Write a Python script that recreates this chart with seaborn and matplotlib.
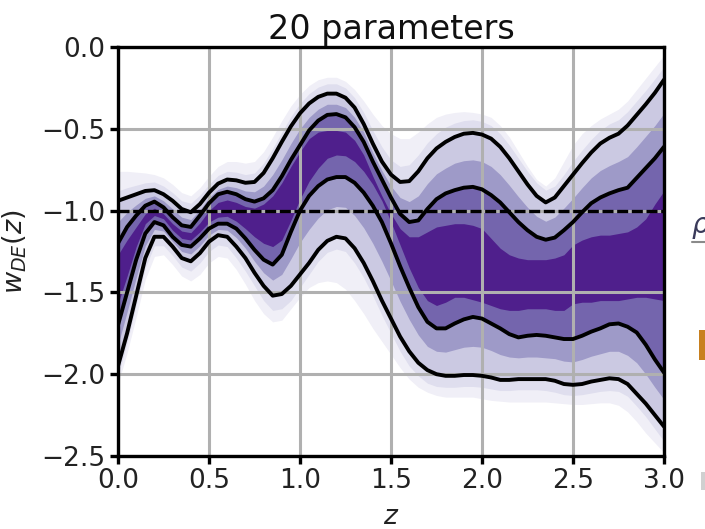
import numpy as np
import matplotlib
matplotlib.use("Agg")
import matplotlib.pyplot as plt
import seaborn as sns
from matplotlib.patches import Rectangle
from matplotlib.lines import Line2D

# redshift grid (step 0.05)
z = np.round(np.arange(61) * 0.05, 2)

# 2-sigma contour lines
w_2sig_hi = [-0.94, -0.92, -0.90, -0.88, -0.875, -0.90, -0.94, -0.99, -1.01, -0.96,
             -0.89, -0.835, -0.81, -0.815, -0.83, -0.825, -0.77, -0.68, -0.58, -0.485,
             -0.405, -0.345, -0.305, -0.285, -0.285, -0.31, -0.37, -0.47, -0.59, -0.70,
             -0.78, -0.825, -0.82, -0.76, -0.68, -0.62, -0.58, -0.55, -0.53, -0.525,
             -0.535, -0.56, -0.61, -0.68, -0.76, -0.84, -0.91, -0.95, -0.92, -0.85,
             -0.78, -0.71, -0.645, -0.59, -0.555, -0.53, -0.48, -0.415, -0.35, -0.28,
             -0.20]
w_2sig_lo = [-1.95, -1.75, -1.52, -1.29, -1.16, -1.16, -1.22, -1.29, -1.31, -1.26,
             -1.19, -1.15, -1.16, -1.22, -1.29, -1.38, -1.46, -1.52, -1.51, -1.46,
             -1.39, -1.32, -1.24, -1.185, -1.16, -1.17, -1.23, -1.32, -1.43, -1.55,
             -1.66, -1.77, -1.86, -1.93, -1.975, -2.00, -2.01, -2.01, -2.005, -2.005,
             -2.01, -2.02, -2.035, -2.035, -2.03, -2.03, -2.03, -2.03, -2.04, -2.06,
             -2.065, -2.06, -2.045, -2.035, -2.025, -2.03, -2.06, -2.12, -2.18, -2.25,
             -2.32]

# 1-sigma contour lines
w_1sig_hi = [-1.20, -1.10, -1.03, -0.97, -0.945, -0.98, -1.04, -1.09, -1.10, -1.03,
             -0.955, -0.90, -0.885, -0.90, -0.93, -0.945, -0.925, -0.875, -0.79, -0.69,
             -0.60, -0.51, -0.45, -0.415, -0.41, -0.43, -0.49, -0.58, -0.70, -0.81,
             -0.92, -1.02, -1.07, -1.06, -0.99, -0.93, -0.895, -0.875, -0.86, -0.855,
             -0.87, -0.905, -0.95, -1.01, -1.07, -1.12, -1.16, -1.178, -1.165, -1.12,
             -1.07, -1.01, -0.955, -0.92, -0.895, -0.875, -0.86, -0.80, -0.74, -0.68,
             -0.61]
w_1sig_lo = [-1.70, -1.50, -1.30, -1.14, -1.07, -1.09, -1.16, -1.21, -1.22, -1.17,
             -1.11, -1.08, -1.08, -1.11, -1.17, -1.24, -1.30, -1.33, -1.27, -1.13,
             -1.00, -0.91, -0.85, -0.81, -0.795, -0.795, -0.83, -0.89, -0.97, -1.07,
             -1.20, -1.34, -1.47, -1.59, -1.68, -1.72, -1.72, -1.69, -1.665, -1.65,
             -1.66, -1.69, -1.72, -1.755, -1.775, -1.765, -1.76, -1.765, -1.775, -1.785,
             -1.785, -1.765, -1.74, -1.72, -1.695, -1.69, -1.71, -1.745, -1.82, -1.91,
             -1.99]

# shaded credible regions (edges of each colour level)
w_05sig_hi = [-1.27, -1.18, -1.10, -1.02, -0.985, -1.02, -1.08, -1.125, -1.135, -1.075,
              -1.00, -0.95, -0.935, -0.95, -0.975, -0.985, -0.96, -0.91, -0.83, -0.73,
              -0.64, -0.56, -0.52, -0.51, -0.51, -0.52, -0.57, -0.66, -0.79, -0.91,
              -1.02, -1.11, -1.16, -1.16, -1.13, -1.10, -1.09, -1.08, -1.08, -1.09,
              -1.11, -1.17, -1.23, -1.27, -1.29, -1.30, -1.30, -1.30, -1.29, -1.27,
              -1.21, -1.18, -1.16, -1.15, -1.15, -1.14, -1.13, -1.10, -1.05, -0.96,
              -0.88]
w_05sig_lo = [-1.57, -1.40, -1.22, -1.08, -1.03, -1.05, -1.12, -1.17, -1.18, -1.13,
              -1.07, -1.04, -1.035, -1.065, -1.11, -1.16, -1.20, -1.22, -1.18, -1.06,
              -0.93, -0.82, -0.74, -0.68, -0.66, -0.665, -0.70, -0.76, -0.84, -0.94,
              -1.07, -1.21, -1.35, -1.47, -1.55, -1.58, -1.56, -1.53, -1.53, -1.545,
              -1.56, -1.58, -1.60, -1.61, -1.61, -1.60, -1.60, -1.60, -1.61, -1.61,
              -1.57, -1.56, -1.56, -1.55, -1.55, -1.55, -1.54, -1.53, -1.53, -1.54,
              -1.55]
w_15sig_hi = [-1.07, -1.01, -0.965, -0.925, -0.91, -0.94, -0.99, -1.04, -1.055, -0.995,
              -0.92, -0.87, -0.85, -0.86, -0.88, -0.885, -0.85, -0.78, -0.69, -0.59,
              -0.50, -0.43, -0.38, -0.35, -0.35, -0.37, -0.43, -0.52, -0.645, -0.755,
              -0.85, -0.92, -0.945, -0.91, -0.835, -0.775, -0.74, -0.71, -0.695, -0.69,
              -0.70, -0.73, -0.78, -0.845, -0.915, -0.98, -1.035, -1.065, -1.04, -0.985,
              -0.925, -0.86, -0.80, -0.755, -0.725, -0.70, -0.67, -0.61, -0.545, -0.48,
              -0.405]
w_15sig_lo = [-1.82, -1.62, -1.41, -1.215, -1.115, -1.125, -1.19, -1.25, -1.265, -1.215,
              -1.15, -1.115, -1.12, -1.165, -1.23, -1.31, -1.38, -1.425, -1.39, -1.295,
              -1.195, -1.115, -1.045, -0.995, -0.975, -0.98, -1.03, -1.105, -1.20, -1.31,
              -1.43, -1.555, -1.665, -1.76, -1.83, -1.86, -1.865, -1.85, -1.835, -1.83,
              -1.835, -1.855, -1.88, -1.895, -1.90, -1.895, -1.895, -1.90, -1.905, -1.92,
              -1.925, -1.91, -1.89, -1.875, -1.86, -1.86, -1.885, -1.93, -2.00, -2.08,
              -2.155]
w_25sig_hi = [-0.88, -0.86, -0.845, -0.83, -0.825, -0.85, -0.89, -0.94, -0.955, -0.905,
              -0.84, -0.785, -0.76, -0.765, -0.78, -0.77, -0.71, -0.62, -0.52, -0.425,
              -0.345, -0.285, -0.245, -0.225, -0.225, -0.25, -0.31, -0.40, -0.51, -0.61,
              -0.69, -0.73, -0.72, -0.66, -0.585, -0.53, -0.49, -0.465, -0.45, -0.445,
              -0.455, -0.48, -0.53, -0.60, -0.68, -0.76, -0.83, -0.875, -0.85, -0.78,
              -0.70, -0.63, -0.565, -0.51, -0.47, -0.445, -0.395, -0.33, -0.265, -0.195,
              -0.12]
w_25sig_lo = [-2.01, -1.81, -1.58, -1.35, -1.215, -1.215, -1.275, -1.345, -1.37, -1.32,
              -1.25, -1.21, -1.22, -1.29, -1.37, -1.46, -1.55, -1.61, -1.60, -1.55,
              -1.47, -1.39, -1.31, -1.255, -1.235, -1.25, -1.32, -1.41, -1.52, -1.64,
              -1.75, -1.86, -1.95, -2.01, -2.055, -2.075, -2.08, -2.08, -2.075, -2.075,
              -2.08, -2.09, -2.10, -2.10, -2.095, -2.095, -2.095, -2.10, -2.11, -2.125,
              -2.13, -2.125, -2.115, -2.105, -2.10, -2.105, -2.135, -2.195, -2.26, -2.335,
              -2.41]
w_3sig_hi = [-0.76, -0.76, -0.765, -0.77, -0.78, -0.80, -0.84, -0.89, -0.91, -0.86,
             -0.79, -0.73, -0.70, -0.70, -0.71, -0.70, -0.64, -0.55, -0.45, -0.36,
             -0.29, -0.235, -0.20, -0.185, -0.185, -0.21, -0.26, -0.33, -0.41, -0.48,
             -0.53, -0.56, -0.56, -0.52, -0.47, -0.43, -0.41, -0.40, -0.395, -0.40,
             -0.41, -0.43, -0.48, -0.55, -0.64, -0.73, -0.81, -0.85, -0.80, -0.70,
             -0.60, -0.53, -0.48, -0.44, -0.41, -0.38, -0.33, -0.26, -0.19, -0.12,
             -0.05]
w_3sig_lo = [-2.06, -1.87, -1.65, -1.42, -1.28, -1.27, -1.33, -1.40, -1.43, -1.39,
             -1.32, -1.28, -1.29, -1.36, -1.45, -1.55, -1.63, -1.68, -1.67, -1.60,
             -1.53, -1.47, -1.44, -1.43, -1.44, -1.48, -1.55, -1.63, -1.72, -1.80,
             -1.88, -1.96, -2.03, -2.08, -2.11, -2.13, -2.14, -2.14, -2.14, -2.14,
             -2.15, -2.16, -2.165, -2.17, -2.17, -2.17, -2.17, -2.17, -2.175, -2.18,
             -2.185, -2.185, -2.18, -2.175, -2.175, -2.19, -2.23, -2.29, -2.36, -2.42,
             -2.48]

x_ticks = [0.0, 0.5, 1.0, 1.5, 2.0, 2.5, 3.0]
y_ticks = [-2.5, -2.0, -1.5, -1.0, -0.5, 0.0]

sns.set_theme(style="ticks")
plt.rcParams["font.family"] = ["DejaVu Sans"]
plt.rcParams["mathtext.fontset"] = "dejavusans"

fig = plt.figure(figsize=(7.05, 5.29), dpi=100)
ax = fig.add_axes([118 / 705, 1 - 456 / 529, 546 / 705, 409 / 529])

# nested shaded levels, outermost first
levels = [
    (w_3sig_hi, w_3sig_lo, "#f0eff7"),
    (w_25sig_hi, w_25sig_lo, "#dfdeee"),
    (w_2sig_hi, w_2sig_lo, "#cbc9e2"),
    (w_15sig_hi, w_15sig_lo, "#9e9ac8"),
    (w_1sig_hi, w_1sig_lo, "#7465ad"),
    (w_05sig_hi, w_05sig_lo, "#4f1f8c"),
]
for hi, lo, col in levels:
    ax.fill_between(z, lo, hi, color=col, lw=0, zorder=1)

# contour lines
for arr in (w_2sig_hi, w_1sig_hi, w_1sig_lo, w_2sig_lo):
    sns.lineplot(x=z, y=arr, color="black", lw=2.8, ax=ax, errorbar=None,
                 sort=False, zorder=3)

# cosmological constant
ax.axhline(-1.0, color="black", lw=2.4, ls=(0, (3.3, 1.1)), zorder=4)

ax.set_xlim(0, 3)
ax.set_ylim(-2.5, 0)
ax.set_xticks(x_ticks)
ax.set_yticks(y_ticks)
ax.set_xticklabels([f"{t:.1f}" for t in x_ticks])
ax.set_yticklabels([f"{t:.1f}".replace("-", "\u2212") for t in y_ticks])
ax.grid(True, color="#b0b0b0", lw=2.2)
ax.set_axisbelow("line")

for sp in ax.spines.values():
    sp.set_linewidth(2.4)
    sp.set_color("black")
ax.tick_params(axis="both", which="major", direction="out", length=6, width=2.4,
               color="black", labelsize=19, labelcolor="#222222", pad=3)

ax.set_title("20 parameters", fontsize=24, color="#111111", pad=6)
ax.set_xlabel("$z$", fontsize=19, color="#222222", labelpad=7)
ax.set_ylabel("$w_{DE}(z)$", fontsize=19.5, color="#222222", labelpad=9)

# neighbouring panel pieces at the right edge
fig.text(691 / 705, 1 - 233 / 529, r"$\rho$", fontsize=20, color="#3a3a5a",
         ha="left", va="baseline")
fig.add_artist(Line2D([692 / 705, 1.0], [1 - 242 / 529, 1 - 242 / 529],
                      color="#8a8a8a", lw=1.5, transform=fig.transFigure))
fig.add_artist(Rectangle((699 / 705, 1 - 360 / 529), 6 / 705, 30 / 529,
                         color="#c8801f", lw=0, transform=fig.transFigure))
fig.add_artist(Rectangle((701 / 705, 1 - 490 / 529), 4 / 705, 18 / 529,
                         color="#d0d0d0", lw=0, transform=fig.transFigure))

fig.savefig("out.png", dpi=100)
